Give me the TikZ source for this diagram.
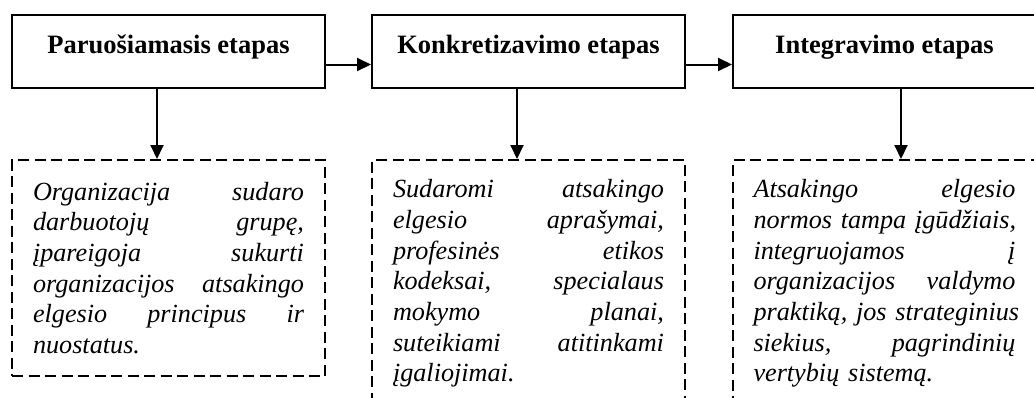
\documentclass[tikz,border=0pt]{standalone}
\usepackage{fontspec}
\setmainfont{Liberation Serif}
\usetikzlibrary{arrows.meta}

% one justified line: the words are spread over the full text width
\newcommand\jline[1]{\leavevmode\hbox to \hsize{#1}}
\newcommand\gap{ \hfill}

\tikzset{
  stagebox/.style={draw, line width=2pt, minimum height=73pt, inner sep=0pt,
    font=\fontsize{26.5}{30}\selectfont\bfseries, text height=20pt, text depth=16pt},
  notebox/.style={draw, line width=2pt, dash pattern=on 11pt off 5.5pt,
    inner ysep=0pt, align=left,
    font=\fontsize{26.2}{30.7}\selectfont\itshape},
  arr/.style={line width=2pt, -{Triangle[length=14pt,width=13pt]}},
}

\begin{document}
\begin{tikzpicture}[x=1pt,y=-1pt]
  \useasboundingbox (0,0) rectangle (1034,397);
  \clip (0,0) rectangle (1034,397);

  % stage boxes
  \node[stagebox, minimum width=313pt] (p1) at (168.5,51.5) {Paruošiamasis etapas};
  \node[stagebox, minimum width=313pt] (p2) at (528.5,51.5) {Konkretizavimo etapas};
  \node[stagebox, minimum width=303pt] (p3) at (884.5,51.5) {Integravimo etapas};

  % descriptions
  \node[notebox, inner xsep=21pt, text width=271pt, minimum height=216pt] (d1) at (168.5,268) {%
    \jline{Organizacija\gap sudaro}\\
    \jline{darbuotojų\gap grupę,}\\
    \jline{įpareigoja\gap sukurti}\\
    \jline{organizacijos\gap atsakingo}\\
    \jline{elgesio\gap principus\gap ir}\\
    nuostatus.};
  \node[notebox, inner xsep=21pt, text width=271pt, minimum height=247pt] (d2) at (528.5,283.5) {%
    \jline{Sudaromi\gap atsakingo}\\
    \jline{elgesio\gap aprašymai,}\\
    \jline{profesinės\gap etikos}\\
    \jline{kodeksai,\gap specialaus}\\
    \jline{mokymo\gap planai,}\\
    \jline{suteikiami\gap atitinkami}\\
    įgaliojimai.};
  \node[notebox, inner xsep=20.5pt, text width=262pt, minimum height=247pt] (d3) at (884.5,283.5) {%
    \jline{Atsakingo\gap elgesio}\\
    \jline{normos\gap tampa\gap įgūdžiais,}\\
    \jline{integruojamos\gap į}\\
    \jline{organizacijos\gap valdymo}\\
    \jline{praktiką,\gap jos\gap strateginius}\\
    \jline{siekius,\gap pagrindinių}\\
    vertybių sistemą.};

  % flow between stages
  \draw[arr] ([yshift=-13pt]p1.east) -- ([yshift=-13pt]p2.west);
  \draw[arr] ([yshift=-13pt]p2.east) -- ([yshift=-13pt]p3.west);

  % stage to description
  \draw[arr] ([xshift=-11.5pt]p1.south) -- ([xshift=-11.5pt]d1.north);
  \draw[arr] ([xshift=-11.5pt]p2.south) -- ([xshift=-11.5pt]d2.north);
  \draw[arr] ([xshift=16.5pt]p3.south) -- ([xshift=16.5pt]d3.north);
\end{tikzpicture}
\end{document}
